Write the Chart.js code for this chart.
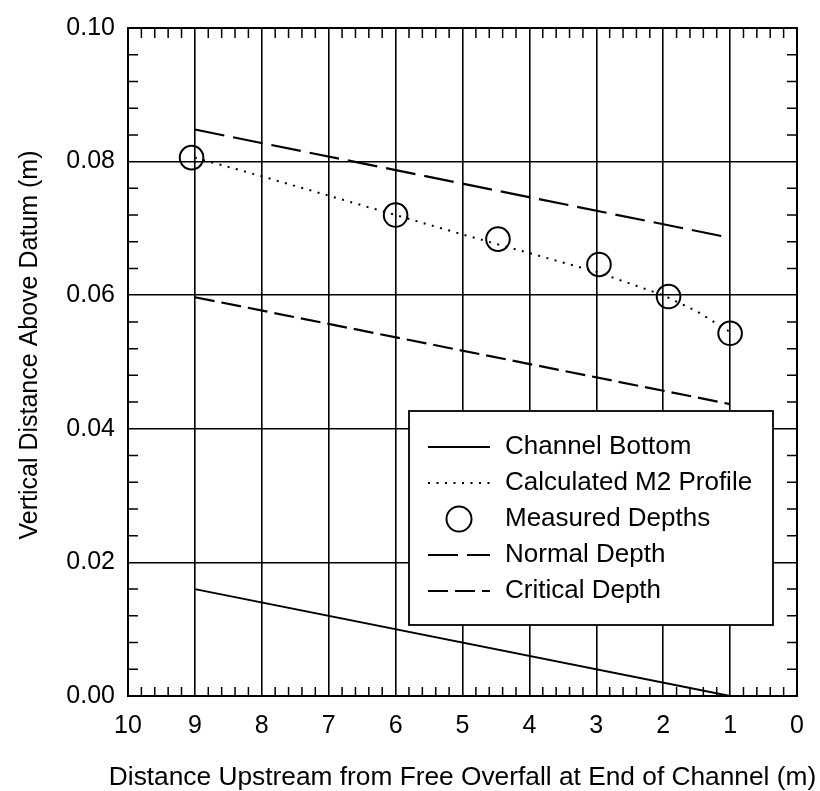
<!DOCTYPE html>
<html lang="en">
<head>
<meta charset="UTF-8">
<meta name="viewport" content="width=device-width, initial-scale=1.0">
<title>M2 Water Surface Profile</title>
<script src="https://cdn.jsdelivr.net/npm/chart.js@4.4.2/dist/chart.umd.min.js"></script>
<style>
    body {
      margin: 0;
      padding: 0;
      background-color: #fff;}
    canvas {
      display: block;}
</style>
</head>
<body>
<canvas id="profileGraph" width="820" height="791"></canvas>

<script>
    // Values (x = distance upstream in m, y = elevation in m)
    const bottomX = [9, 1];
    const bottomY = [0.016, 0.0];

    const m2X = [9, 8, 7, 6, 5, 4, 3, 2, 1.5, 1];
    const m2Y = [0.0806, 0.0778, 0.0749, 0.0720, 0.0691, 0.0663, 0.0635, 0.0600, 0.0576, 0.0545];

    const measuredX = [9.05, 6, 4.47, 2.96, 1.92, 1.0];
    const measuredY = [0.0806, 0.0720, 0.0684, 0.0646, 0.0598, 0.0543];

    const normalX = [9, 1];
    const normalY = [0.0848, 0.0686];

    const criticalX = [9, 1];
    const criticalY = [0.0597, 0.0437];

    const xTicks = [0, 1, 2, 3, 4, 5, 6, 7, 8, 9, 10];
    const yTicks = [0.00, 0.02, 0.04, 0.06, 0.08, 0.10];

    const xTitle = 'Distance Upstream from Free Overfall at End of Channel (m)';
    const yTitle = 'Vertical Distance Above Datum (m)';

    const FONT = "'Liberation Sans', Arial, Helvetica, sans-serif";

    function toPoints(xs, ys) {
        return xs.map((x, i) => ({x: x, y: ys[i]}));
    }

    // frame, inward minor ticks, axis titles and the boxed legend
    const framePlugin = {
        id: 'frame',
        afterDraw(chart) {
            const ctx = chart.ctx;
            const a = chart.chartArea;
            const xs = chart.scales.x;
            const ys = chart.scales.y;
            ctx.save();
            ctx.strokeStyle = '#000';
            ctx.lineWidth = 1.5;
            ctx.setLineDash([]);

            // minor x ticks every 0.2 m, top and bottom
            ctx.beginPath();
            for (let i = 1; i < 50; i++) {
                if (i % 5 === 0) continue;
                const px = xs.getPixelForValue(i / 5);
                ctx.moveTo(px, a.bottom);
                ctx.lineTo(px, a.bottom - 9);
                ctx.moveTo(px, a.top);
                ctx.lineTo(px, a.top + 10);
            }
            // minor y ticks every 0.004 m, left and right
            for (let i = 1; i < 25; i++) {
                if (i % 5 === 0) continue;
                const py = ys.getPixelForValue(i * 0.004);
                ctx.moveTo(a.left, py);
                ctx.lineTo(a.left + 10, py);
                ctx.moveTo(a.right, py);
                ctx.lineTo(a.right - 10, py);
            }
            ctx.stroke();

            // frame
            ctx.lineWidth = 2;
            ctx.strokeRect(a.left, a.top, a.right - a.left, a.bottom - a.top);

            // axis titles (drawn here so the long x title is not squeezed)
            ctx.fillStyle = '#000';
            ctx.textAlign = 'center';
            ctx.textBaseline = 'alphabetic';
            ctx.font = '26.3px ' + FONT;
            ctx.fillText(xTitle, (a.left + a.right) / 2, chart.height - 6);
            ctx.save();
            ctx.translate(37, (a.top + a.bottom) / 2 - 17);
            ctx.rotate(-Math.PI / 2);
            ctx.font = '25px ' + FONT;
            ctx.fillText(yTitle, 0, 0);
            ctx.restore();

            // legend box
            const boxL = a.right - 388, boxR = a.right - 24;
            const boxT = a.bottom - 285, boxB = a.bottom - 71;
            ctx.fillStyle = '#fff';
            ctx.fillRect(boxL, boxT, boxR - boxL, boxB - boxT);
            ctx.lineWidth = 1.8;
            ctx.strokeRect(boxL, boxT, boxR - boxL, boxB - boxT);

            ctx.font = '26px ' + FONT;
            ctx.textBaseline = 'middle';
            ctx.textAlign = 'left';
            ctx.fillStyle = '#000';
            chart.data.datasets.forEach((ds, i) => {
                const rowY = boxT + 36 + i * 36;
                const x0 = boxL + 19, x1 = boxL + 81;
                ctx.strokeStyle = '#000';
                if (ds.showLine === false) {
                    ctx.setLineDash([]);
                    ctx.lineWidth = ds.borderWidth;
                    ctx.beginPath();
                    ctx.arc((x0 + x1) / 2, rowY, 12.5, 0, Math.PI * 2);
                    ctx.stroke();
                } else {
                    ctx.setLineDash(ds.borderDash || []);
                    ctx.lineWidth = ds.borderWidth;
                    ctx.beginPath();
                    ctx.moveTo(x0, rowY);
                    ctx.lineTo(x1, rowY);
                    ctx.stroke();
                }
                ctx.setLineDash([]);
                ctx.fillText(ds.label, boxL + 96, rowY);
            });
            ctx.restore();
        }
    };

    const ctx = document.getElementById('profileGraph').getContext('2d');
    const profileGraph = new Chart(ctx, {
        type: 'scatter',
        data: {
            datasets: [
                {
                    label: 'Channel Bottom',
                    data: toPoints(bottomX, bottomY),
                    showLine: true,
                    borderColor: '#000',
                    borderWidth: 2,
                    pointRadius: 0},
                {
                    label: 'Calculated M2 Profile',
                    data: toPoints(m2X, m2Y),
                    showLine: true,
                    borderColor: '#000',
                    borderWidth: 2,
                    borderDash: [2, 6.5],
                    pointRadius: 0},
                {
                    label: 'Measured Depths',
                    data: toPoints(measuredX, measuredY),
                    showLine: false,
                    borderColor: '#000',
                    backgroundColor: 'rgba(0,0,0,0)',
                    borderWidth: 2,
                    pointRadius: 11.8,
                    pointStyle: 'circle'},
                {
                    label: 'Normal Depth',
                    data: toPoints(normalX, normalY),
                    showLine: true,
                    borderColor: '#000',
                    borderWidth: 2.2,
                    borderDash: [30, 9],
                    pointRadius: 0},
                {
                    label: 'Critical Depth',
                    data: toPoints(criticalX, criticalY),
                    showLine: true,
                    borderColor: '#000',
                    borderWidth: 2.2,
                    borderDash: [20, 7],
                    pointRadius: 0}
            ]},
        options: {
            responsive: false,
            animation: false,
            layout: {
                padding: {left: 0, top: 22, right: 23, bottom: 0}},
            plugins: {
                legend: {display: false},
                tooltip: {enabled: false}},
            scales: {
                x: {
                    type: 'linear',
                    reverse: true,
                    min: 0,
                    max: 10,
                    afterFit: function(scale) { scale.height = 95; },
                    afterBuildTicks: function(scale) {
                        scale.ticks = xTicks.map(v => ({value: v}));},
                    grid: {
                        color: '#000',
                        lineWidth: 1.6,
                        drawTicks: false},
                    border: {display: true, color: '#000', width: 2},
                    ticks: {
                        padding: 15,
                        color: '#000',
                        font: {family: FONT, size: 25}},
                    title: {display: false}},
                y: {
                    type: 'linear',
                    min: 0,
                    max: 0.1,
                    afterFit: function(scale) { scale.width = 128; },
                    afterBuildTicks: function(scale) {
                        scale.ticks = yTicks.map(v => ({value: v}));},
                    grid: {
                        color: '#000',
                        lineWidth: 1.6,
                        drawTicks: false},
                    border: {display: true, color: '#000', width: 2},
                    ticks: {
                        padding: 13,
                        color: '#000',
                        font: {family: FONT, size: 25},
                        callback: function(value) { return value.toFixed(2); }},
                    title: {display: false}}}},
        plugins: [framePlugin]
    });
</script>
</body>
</html>
